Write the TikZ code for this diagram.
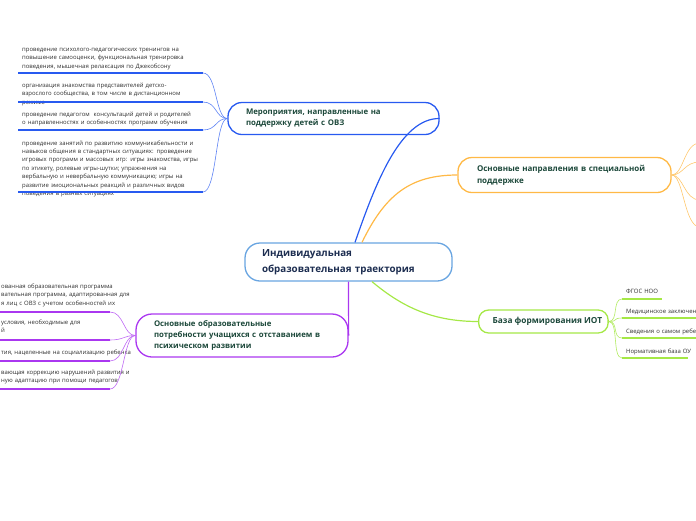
\documentclass[tikz,border=0pt]{standalone}
\usepackage{fontspec}
\setmainfont{Open Sans}
\usetikzlibrary{calc}
\definecolor{cCenter}{RGB}{105,165,225}
\definecolor{cBlue}{RGB}{40,90,240}
\definecolor{cOrange}{RGB}{255,185,70}
\definecolor{cGreen}{RGB}{165,232,70}
\definecolor{cPurple}{RGB}{170,55,240}
\definecolor{cNodeText}{RGB}{28,72,58}
\definecolor{cCenterText}{RGB}{28,45,80}
\definecolor{cLeaf}{RGB}{45,45,45}
\tikzset{
  mainbox/.style={draw, rounded corners=14pt, line width=1.3pt, align=left,
    font=\bfseries\fontsize{7.8}{11}\selectfont, text=cNodeText, inner ysep=0pt},
  leaf/.style={font=\fontsize{5.95}{8.4}\selectfont, text=cLeaf, inner sep=0pt,
    align=left, anchor=base west, text width=220pt},
  uline/.style={line width=1.8pt},
  maincon/.style={line width=1.2pt},
  subcon/.style={line width=0.6pt},
}
\begin{document}
\begin{tikzpicture}[x=1pt,y=-1pt]
\useasboundingbox (0,0) rectangle (696,520);
\clip (0,0) rectangle (696,520);

% ---------- main nodes ----------
\node[mainbox, draw=cCenter, text=cCenterText, rounded corners=15pt,
  font=\bfseries\fontsize{9.8}{16}\selectfont,
  minimum width=207pt, minimum height=38pt, text width=173pt, inner xsep=17pt]
  (ctr) at (348.5,262) {Индивидуальная\\образовательная траектория};

\node[mainbox, draw=cBlue, minimum width=211pt, minimum height=32pt,
  text width=175pt, inner xsep=18pt]
  (mer) at (333.5,118.5) {Мероприятия, направленные на\\поддержку детей с ОВЗ};

\node[mainbox, draw=cOrange, minimum width=213pt, minimum height=35pt,
  text width=175pt, inner xsep=19pt, font=\bfseries\fontsize{8}{12}\selectfont]
  (osn) at (564.5,175) {Основные направления в специальной\\поддержке};

\node[mainbox, draw=cGreen, rounded corners=10pt, minimum width=125pt, minimum height=23pt,
  inner xsep=0pt, anchor=west, font=\bfseries\fontsize{8.3}{11}\selectfont]
  (baz) at (478,321.5) {\hspace*{14pt}База формирования ИОТ\hspace*{6pt}};

\node[mainbox, draw=cPurple, rounded corners=16pt, minimum width=212pt, minimum height=43pt,
  text width=176pt, inner xsep=18pt, font=\bfseries\fontsize{7.8}{10.6}\selectfont]
  (pot) at (242,335.5) {Основные образовательные\\потребности учащихся с отставанием в\\психическом развитии};

% ---------- main connectors ----------
\draw[maincon, cBlue] ($(ctr.north)+(6.5,0)$) .. controls (375,185) and (400,118) .. (mer.east);
\draw[maincon, cOrange] ($(ctr.north)+(13.5,0)$) .. controls (385,195) and (410,175) .. (osn.west);
\draw[maincon, cGreen] ($(ctr.south)+(23.5,0)$) .. controls (400,305) and (430,321.5) .. (baz.west);
\draw[maincon, cPurple] (ctr.south) -- (pot.east);

% ---------- blue children ----------
\node[leaf] (b1t) at (22,51.5) {проведение психолого-педагогических тренингов на\\повышение самооценки, функциональная тренировка\\поведения, мышечная релаксация по Джекобсону};
\node[leaf] (b2t) at (22,87.5) {организация знакомства представителей детско-\\взрослого сообщества, в том числе в дистанционном\\режиме};
\node[leaf] (b3t) at (22,116.5) {проведение педагогом \ консультаций детей и родителей\\о направленностях и особенностях программ обучения};
\node[leaf] (b4t) at (22,145) {проведение занятий по развитию коммуникабельности и\\навыков общения в стандартных ситуациях: проведение\\игровых программ и массовых игр: игры знакомства, игры\\по этикету, ролевые игры-шутки; упражнения на\\вербальную и невербальную коммуникацию; игры на\\развитие эмоциональных реакций и различных видов\\поведения в разных ситуациях};
\coordinate (b1) at (203,73);
\coordinate (b2) at (203,102);
\coordinate (b3) at (203,130);
\coordinate (b4) at (203,192);
\foreach \c in {b1,b2,b3,b4}{
  \draw[uline, cBlue] (\c) -- ++(-185,0);
  \draw[subcon, cBlue!75] (\c) .. controls +(14,0) and +(-12,0) .. (mer.west);
}

% ---------- orange children (off the right edge) ----------
\coordinate (o1) at (700,143);
\coordinate (o2) at (700,162);
\coordinate (o3) at (700,200);
\coordinate (o4) at (700,227);
\foreach \c in {o1,o2,o3,o4}{
  \draw[subcon, cOrange!80] (\c) .. controls +(-16,0) and +(12,0) .. (osn.east);
}

% ---------- green children ----------
\node[leaf] (g1t) at (626,293.5) {ФГОС НОО};
\node[leaf] (g2t) at (626,313.5) {Медицинское заключение};
\node[leaf] (g3t) at (626,333.5) {Сведения о самом ребенке};
\node[leaf] (g4t) at (626,353.5) {Нормативная база ОУ};
\coordinate (g1) at (622,299);
\coordinate (g2) at (622,318);
\coordinate (g3) at (622,338);
\coordinate (g4) at (622,358);
\draw[uline, cGreen] (g1) -- ++(40,0);
\draw[uline, cGreen] (g2) -- ++(80,0);
\draw[uline, cGreen] (g3) -- ++(80,0);
\draw[uline, cGreen] (g4) -- ++(66,0);
\foreach \c in {g1,g2,g3,g4}{
  \draw[subcon, cGreen!85] (\c) .. controls +(-10,0) and +(10,0) .. (baz.east);
}

% ---------- purple children ----------
\node[leaf] (p1t) at (1,288.5) {ованная образовательная программа\\вательная программа, адаптированная для\\я лиц с ОВЗ с учетом особенностей их};
\node[leaf] (p2t) at (1,324.5) {условия, необходимые для\\й};
\node[leaf] (p3t) at (1,354.5) {тия, нацеленные на социализацию ребенка};
\node[leaf] (p4t) at (1,374.5) {вающая коррекцию нарушений развития и\\ную адаптацию при помощи педагогов};
\coordinate (p1) at (110,312);
\coordinate (p2) at (110,340);
\coordinate (p3) at (110,361);
\coordinate (p4) at (110,389);
\foreach \c in {p1,p2,p3,p4}{
  \draw[uline, cPurple] (\c) -- ++(-112,0);
  \draw[subcon, cPurple!75] (\c) .. controls +(14,0) and +(-12,0) .. (pot.west);
}
\end{tikzpicture}
\end{document}
